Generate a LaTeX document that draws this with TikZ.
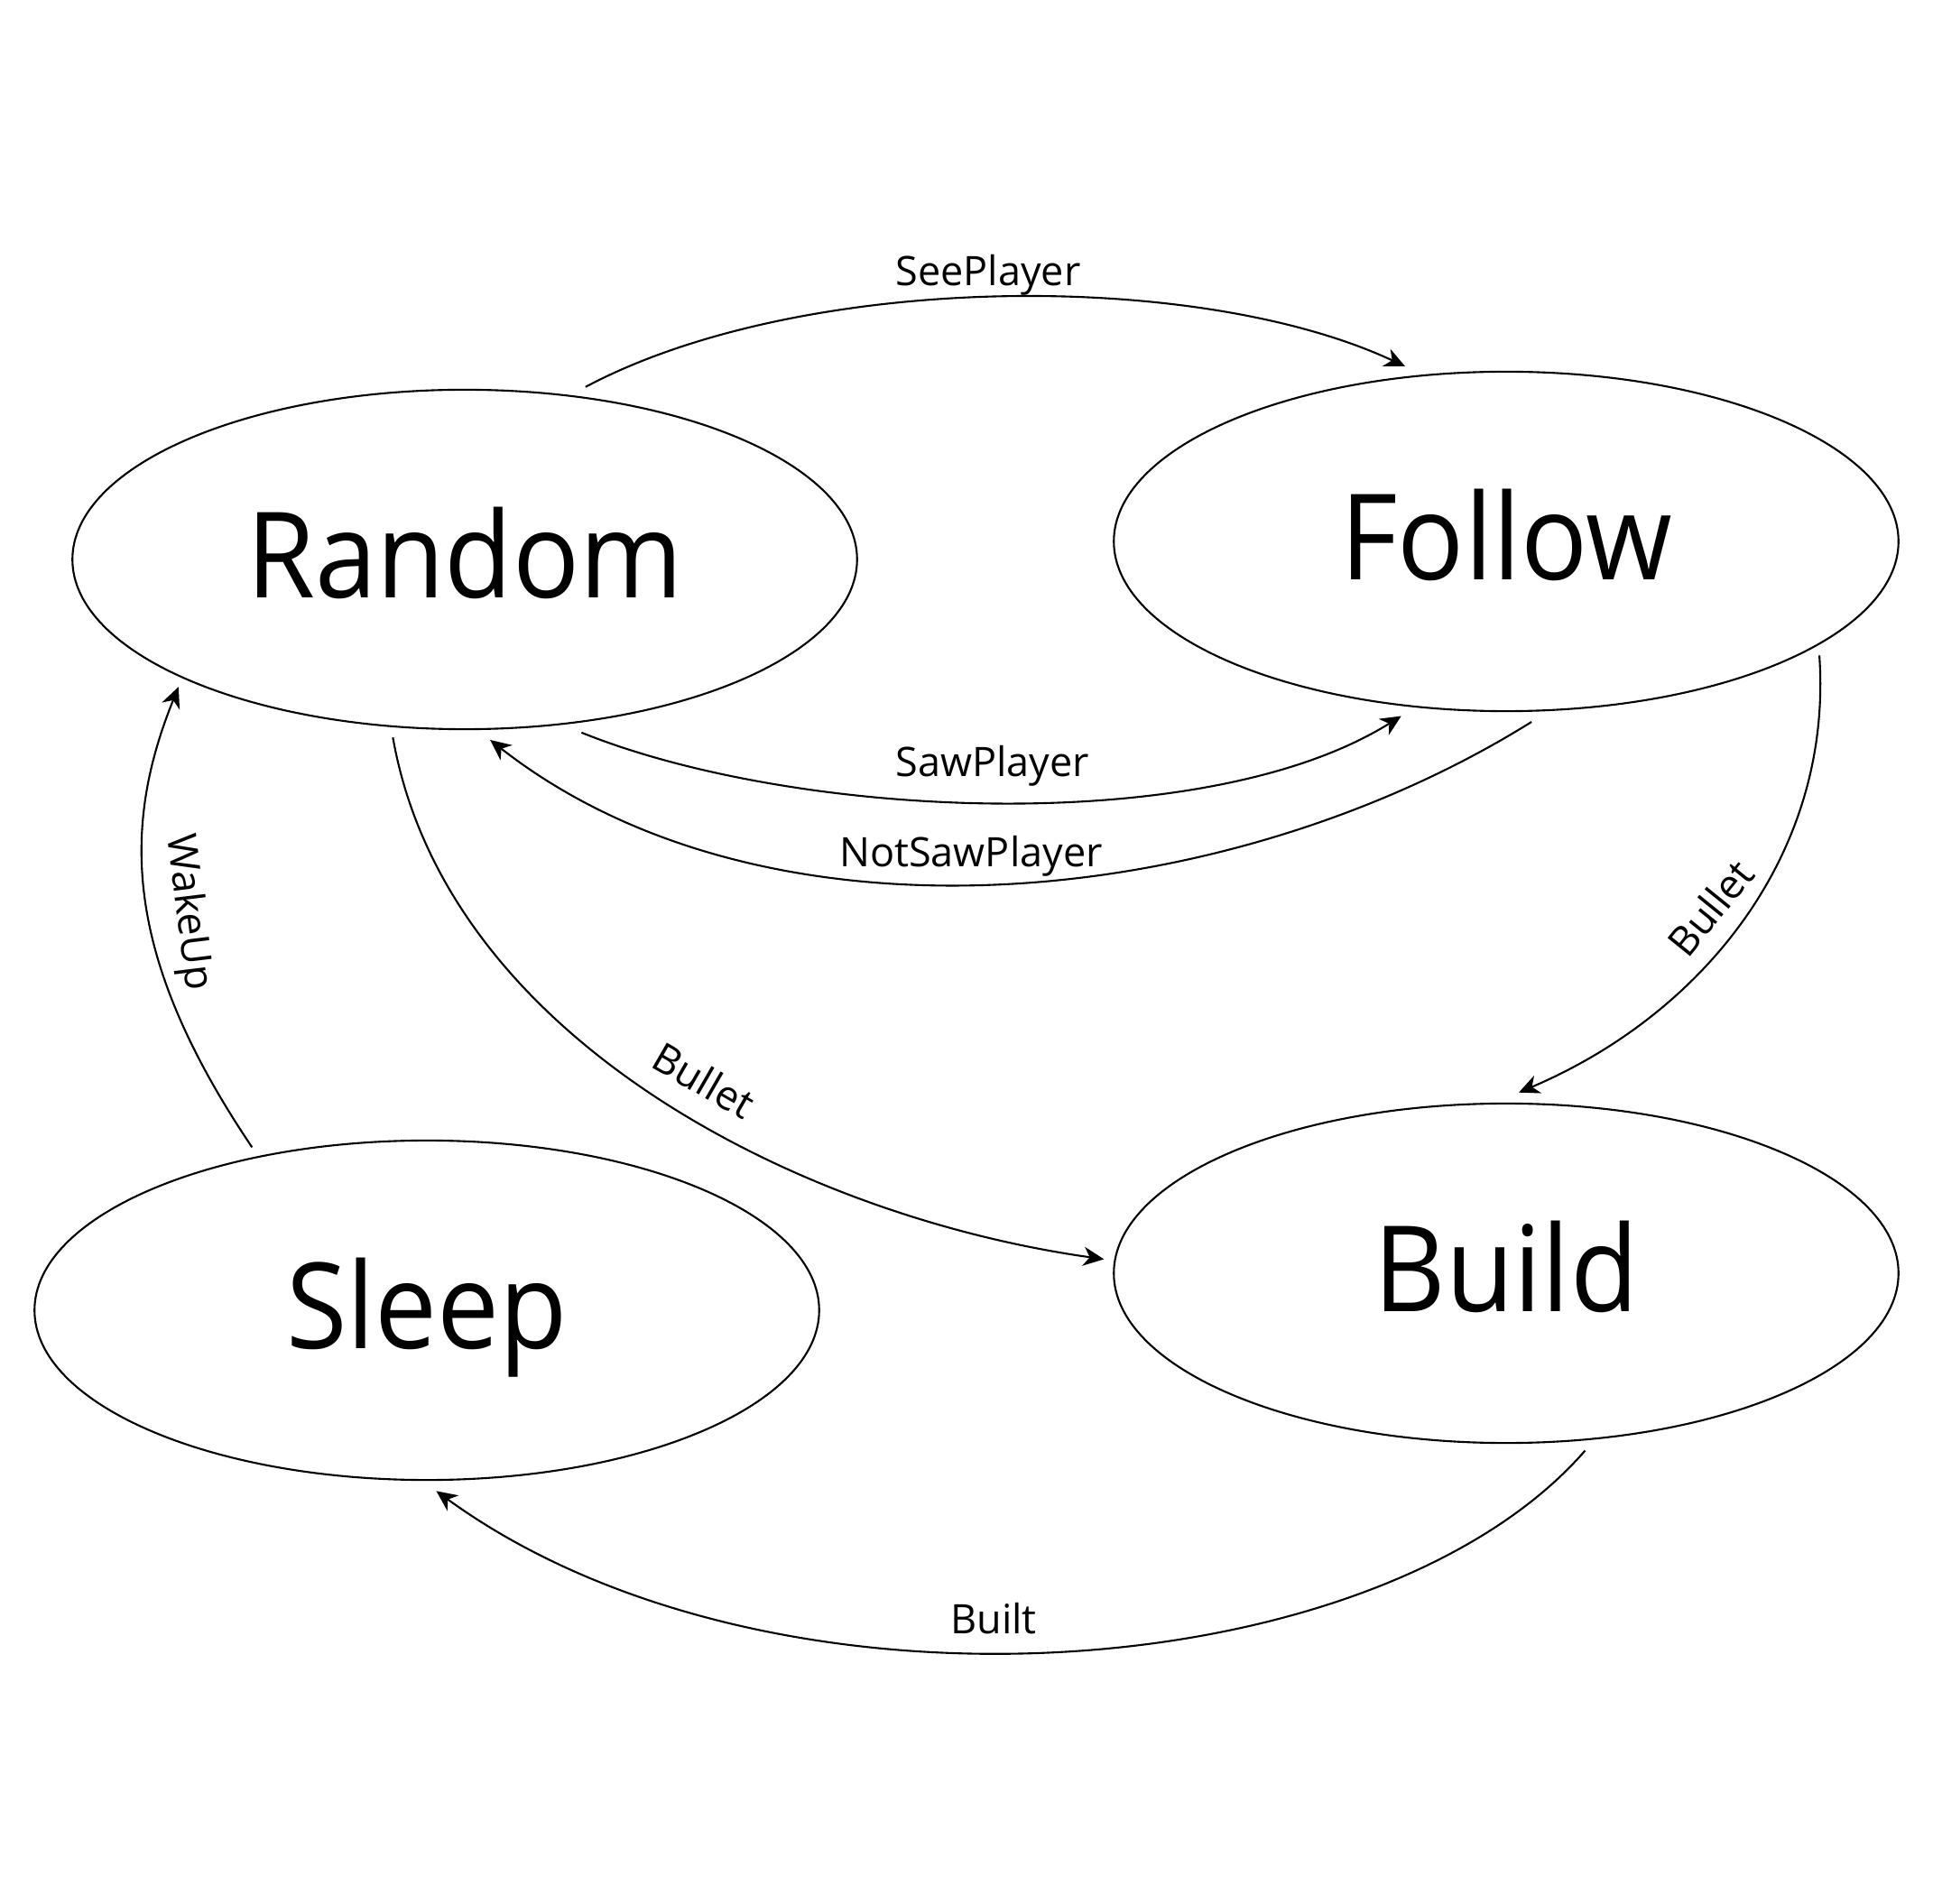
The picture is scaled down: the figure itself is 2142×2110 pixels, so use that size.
\documentclass[tikz,border=0pt]{standalone}
\usepackage{fontspec}
\setmainfont{Open Sans}
\newfontfamily\statefont[FakeStretch=0.93]{Open Sans}
\usetikzlibrary{shapes.geometric,arrows.meta}

\tikzset{
  state/.style={draw,ellipse,line width=0.6pt,minimum width=8.69cm,minimum height=3.76cm,
    inner sep=0pt,outer sep=3.5pt,font=\statefont\fontsize{37.6}{40}\selectfont,
    text height=24.4pt,text depth=0pt},
  trans/.style={-{Stealth[length=6.5pt,width=6pt,inset=2pt]},line width=0.6pt},
  lbl/.style={font=\fontsize{12.8}{14}\selectfont,inner sep=0pt}
}

\begin{document}
\begin{tikzpicture}[x=0.01cm,y=0.01cm]
  \useasboundingbox (0,0) rectangle (2142,-2110);
  \node[state] (random) at (515,-620) {Random};
  \node[state] (follow) at (1669,-600) {Follow};
  \node[state] (sleep) at (473,-1452) {Sleep};
  \node[state] (build) at (1669,-1411) {Build};

  \draw[trans] (random.55) to[out=28,in=155,out looseness=0.76,in looseness=0.72] (follow.120);
  \draw[trans] (random.-56) to[out=-22,in=212,looseness=0.72] (follow.-121);
  \draw[trans] (follow.-82) to[out=212,in=-38,looseness=0.87] (random.-82);
  \draw[trans] (sleep.137) to[out=124,in=248,out looseness=1.27,in looseness=0.83] (random.204);
  \draw[trans] (random.248) to[out=-80,in=172,looseness=0.89] (build.178);
  \draw[trans] (follow.-20) to[out=-86,in=23,looseness=0.96] (build.86);
  \draw[trans] (build.-66) to[out=229,in=-36,out looseness=0.7,in looseness=0.92] (sleep.-87);

  \node[lbl,anchor=base] (seeplayer) at (1095,-317) {SeePlayer};
  \node[lbl,anchor=base] (sawplayer) at (1100,-861) {SawPlayer};
  \node[lbl,anchor=base] (notsawplayer) at (1076,-961) {NotSawPlayer};
  \node[lbl,rotate=-83] (wakeup) at (208,-1011) {WakeUp};
  \node[lbl,rotate=-30] (bulleta) at (780,-1197) {Bullet};
  \node[lbl,rotate=51] (bulletb) at (1895,-1006) {Bullet};
  \node[lbl,anchor=base] (built) at (1101,-1810) {Built};
\end{tikzpicture}
\end{document}
